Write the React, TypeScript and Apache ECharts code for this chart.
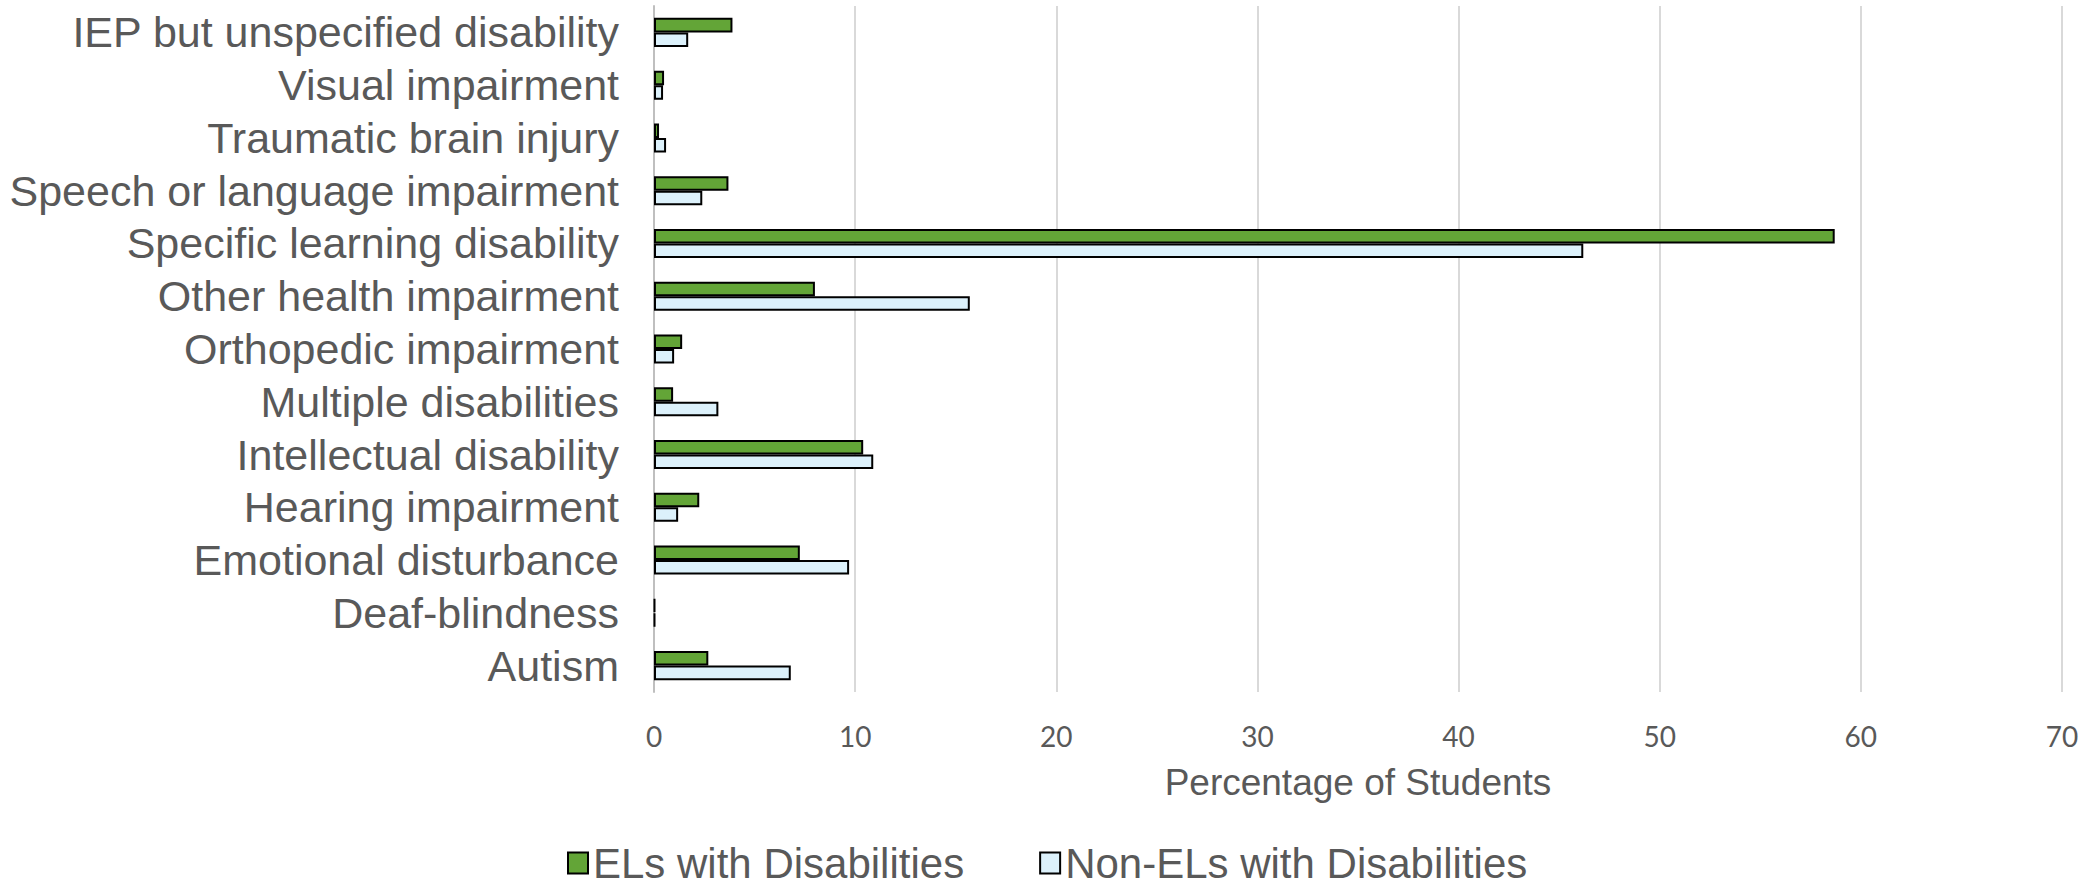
import React, { useEffect, useRef } from "react";
import * as echarts from "echarts";

const categories = [
  "IEP but unspecified disability",
  "Visual impairment",
  "Traumatic brain injury",
  "Speech or language impairment",
  "Specific learning disability",
  "Other health impairment",
  "Orthopedic impairment",
  "Multiple disabilities",
  "Intellectual disability",
  "Hearing impairment",
  "Emotional disturbance",
  "Deaf-blindness",
  "Autism",
];

const elsValues = [3.9, 0.5, 0.25, 3.7, 58.7, 8.0, 1.4, 0.95, 10.4, 2.25, 7.25, 0.05, 2.7];
const nonElsValues = [1.7, 0.45, 0.6, 2.4, 46.2, 15.7, 1.0, 3.2, 10.9, 1.2, 9.7, 0.05, 6.8];

const seriesNames = ["ELs with Disabilities", "Non-ELs with Disabilities"];
const xTicks = { min: 0, max: 70, interval: 10 };

export default function App() {
  const ref = useRef<HTMLDivElement>(null);

  useEffect(() => {
    if (!ref.current) return;
    const chart = echarts.init(ref.current, null, { renderer: "svg" });
    const textColor = "#595959";
    chart.setOption({
      animation: false,
      backgroundColor: "#ffffff",
      grid: { left: 654, right: 35, top: 6, bottom: 193 },
      legend: {
        data: seriesNames,
        top: 842,
        left: 567,
        padding: 0,
        itemWidth: 20,
        itemHeight: 21,
        itemGap: 75,
        icon: "rect",
        textStyle: {
          color: textColor,
          fontSize: 42,
          fontFamily: "Liberation Sans",
          lineHeight: 38,
        },
      },
      xAxis: {
        type: "value",
        min: xTicks.min,
        max: xTicks.max,
        interval: xTicks.interval,
        name: "Percentage of Students",
        nameLocation: "middle",
        nameGap: 72,
        nameTextStyle: { color: textColor, fontSize: 37, fontFamily: "Liberation Sans" },
        axisLine: { show: false },
        axisTick: { show: false },
        axisLabel: { color: textColor, fontSize: 28, fontFamily: "Lato", margin: 30 },
        splitLine: { show: true, lineStyle: { color: "#d9d9d9", width: 2 } },
      },
      yAxis: {
        type: "category",
        data: categories,
        inverse: true,
        axisLine: { show: true, lineStyle: { color: "#bfbfbf", width: 2 } },
        axisTick: { show: false },
        axisLabel: {
          color: textColor,
          fontSize: 43,
          fontFamily: "Liberation Sans",
          margin: 35,
          interval: 0,
        },
      },
      series: [
        {
          name: seriesNames[0],
          type: "bar",
          data: elsValues,
          barGap: "0%",
          barCategoryGap: "45%",
          itemStyle: { color: "#63a537", borderColor: "#000000", borderWidth: 2 },
        },
        {
          name: seriesNames[1],
          type: "bar",
          data: nonElsValues,
          barGap: "0%",
          barCategoryGap: "45%",
          itemStyle: { color: "#dcf1fb", borderColor: "#000000", borderWidth: 2 },
        },
      ],
    });
    return () => chart.dispose();
  }, []);

  return (
    <div
      ref={ref}
      style={{ position: "absolute", left: 0, top: 0, width: 2097, height: 885 }}
    />
  );
}
